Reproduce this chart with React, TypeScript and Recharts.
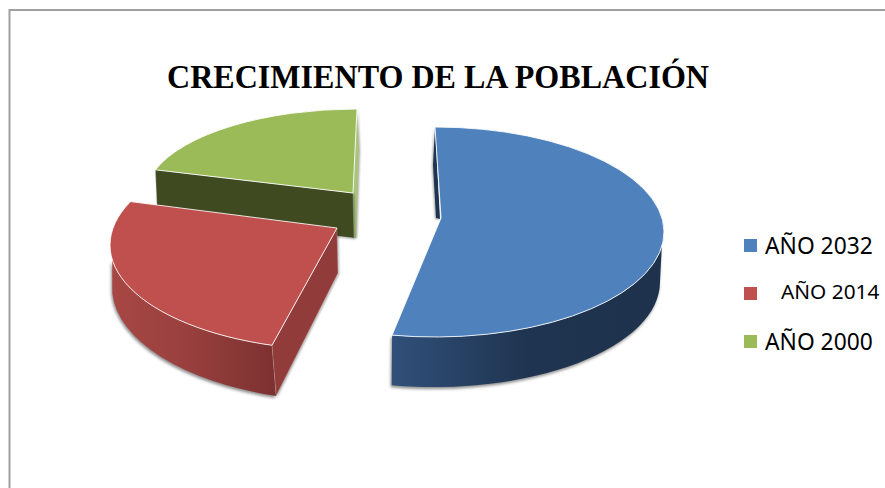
import React from "react";
import { PieChart, Pie, Legend } from "recharts";

const categories = ["AÑO 2000", "AÑO 2014", "AÑO 2032"];
const values = [20, 27, 53];
const colors = ["#9BBB59", "#C0504D", "#4F81BD"];
const chartTitle = "CRECIMIENTO DE LA POBLACIÓN";

const rows = categories.map((name, i) => ({ name, value: values[i], fill: colors[i] }));

type Geo = {
  top: { x: number; y: number; rx: number; ry: number };
  bottom: { x: number; y: number; rx: number; ry: number };
  apex: [number, number];
  rotate: number;
  depth: number;
  wallTop?: [number, number];
  wallBottom?: [number, number];
  wallStops?: [number, string][];
  cutFill?: string;
};

const geometry: Record<string, Geo> = {
  "AÑO 2000": {
    top: { x: 357, y: 197, rx: 212, ry: 88 },
    bottom: { x: 359, y: 242, rx: 212, ry: 88 },
    apex: [353, 193],
    rotate: 0,
    depth: 45,
    cutFill: "#404A21",
  },
  "AÑO 2014": {
    top: { x: 340, y: 245, rx: 230, ry: 105 },
    bottom: { x: 345, y: 287, rx: 233, ry: 114 },
    apex: [337, 228],
    rotate: -6.4,
    depth: 45,
    wallTop: [188, 252.8],
    wallBottom: [183, 252.8],
    wallStops: [[0, "#A74744"], [0.45, "#99403E"], [1, "#7B3130"]],
    cutFill: "#913C3A",
  },
  "AÑO 2032": {
    top: { x: 435, y: 232, rx: 229, ry: 105 },
    bottom: { x: 434, y: 282, rx: 226, ry: 105 },
    apex: [441, 218],
    rotate: 0,
    depth: 50,
    wallTop: [259.2, 352],
    wallBottom: [259.2, 360],
    wallStops: [[0, "#30507A"], [0.5, "#1F3450"], [1, "#1E324D"]],
  },
};

const legendStyle: Record<string, { y: number; x: number; size: number; box: number }> = {
  "AÑO 2032": { y: 231, x: 765, size: 22.8, box: 239 },
  "AÑO 2014": { y: 276, x: 781, size: 20.8, box: 287 },
  "AÑO 2000": { y: 327, x: 765, size: 22.8, box: 335 },
};

const pt = (e: Geo["top"], deg: number): [number, number] => {
  const a = (deg * Math.PI) / 180;
  return [e.x + e.rx * Math.cos(a), e.y - e.ry * Math.sin(a)];
};

const SliceShape = (props: any) => {
  const g = geometry[props.name];
  const start = props.startAngle + g.rotate;
  const end = props.endAngle + g.rotate;
  const s = pt(g.top, start);
  const t = pt(g.top, end);
  const large = end - start > 180 ? 1 : 0;
  const face = `M${g.apex[0]} ${g.apex[1]} L${s[0]} ${s[1]} A${g.top.rx} ${g.top.ry} 0 ${large} 0 ${t[0]} ${t[1]} Z`;
  const id = "wall" + props.name.replace(/\D/g, "");

  let wall: React.ReactNode = null;
  if (g.wallTop && g.wallBottom && g.wallStops) {
    const a = pt(g.top, g.wallTop[0]);
    const b = pt(g.top, g.wallTop[1]);
    const c = pt(g.bottom, g.wallBottom[1]);
    const d = pt(g.bottom, g.wallBottom[0]);
    wall = (
      <>
        <defs>
          <linearGradient id={id} x1="0" y1="0" x2="1" y2="0">
            {g.wallStops.map(([o, col]) => (
              <stop key={o} offset={o} stopColor={col} />
            ))}
          </linearGradient>
        </defs>
        <path
          d={`M${a[0]} ${a[1]} A${g.top.rx} ${g.top.ry} 0 0 0 ${b[0]} ${b[1]} L${c[0]} ${c[1]} A${g.bottom.rx} ${g.bottom.ry} 0 0 1 ${d[0]} ${d[1]} Z`}
          fill={`url(#${id})`}
          style={{ filter: "drop-shadow(-1px 2px 1.5px rgba(0,0,0,.45))" }}
        />
      </>
    );
  }

  let cut: React.ReactNode = null;
  if (g.cutFill) {
    const low = pt(g.bottom, end);
    cut = (
      <path
        d={`M${g.apex[0]} ${g.apex[1]} L${t[0]} ${t[1]} L${low[0]} ${low[1]} L${g.apex[0] + 1} ${g.apex[1] + g.depth} Z`}
        fill={g.cutFill}
        stroke="#ffffff"
        strokeOpacity={0.35}
        strokeWidth={0.6}
        style={{ filter: "drop-shadow(1px 1px 1px rgba(0,0,0,.35))" }}
      />
    );
  }

  // Thin slivers of the inner cut seen behind the top edge of the green and blue slices.
  let sliver: React.ReactNode = null;
  if (props.name === "AÑO 2000") {
    sliver = (
      <path
        d={`M${s[0]} ${s[1]} L359 150 L356 238 L352 238 L${g.apex[0]} ${g.apex[1]} Z`}
        fill="#A9C47C"
        style={{ filter: "drop-shadow(1px 0px 1px rgba(0,0,0,.35))" }}
      />
    );
  }
  if (props.name === "AÑO 2032") {
    sliver = (
      <path
        d={`M${t[0]} ${t[1]} L433 165 L436 218 L440 219 Z`}
        fill="#1F3450"
        style={{ filter: "drop-shadow(-1px 1px 1px rgba(0,0,0,.35))" }}
      />
    );
  }

  return (
    <g>
      {sliver}
      {wall}
      {cut}
      <path d={face} fill={props.fill} stroke="#ffffff" strokeOpacity={0.85} strokeWidth={1} />
    </g>
  );
};

const LegendContent = (props: any) => {
  const items = [...(props.payload || [])].reverse();
  return (
    <div style={{ position: "relative", width: 885, height: 488 }}>
      {items.map((it: any) => {
        const st = legendStyle[it.value];
        return (
          <React.Fragment key={it.value}>
            <div
              style={{
                position: "absolute",
                left: 744,
                top: st.box,
                width: 13,
                height: 13,
                background: it.color,
              }}
            />
            <div
              style={{
                position: "absolute",
                left: st.x,
                top: st.y,
                fontFamily: "'Noto Sans', sans-serif",
                fontSize: st.size,
                lineHeight: "30px",
                color: "#000",
                whiteSpace: "nowrap",
              }}
            >
              {it.value}
            </div>
          </React.Fragment>
        );
      })}
    </div>
  );
};

export default function App() {
  return (
    <div style={{ position: "absolute", left: 0, top: 0, width: 885, height: 488, background: "#fff" }}>
      <PieChart width={885} height={488} margin={{ top: 0, right: 0, bottom: 0, left: 0 }}>
        <path d="M9.5 488 V10 H885" fill="none" stroke="#A0A0A0" strokeWidth={2} />
        <text
          x={438}
          y={88}
          textAnchor="middle"
          fontFamily="'Liberation Serif', serif"
          fontWeight="bold"
          fontSize={33.5}
          textLength={542}
          lengthAdjust="spacingAndGlyphs"
          fill="#000"
        >
          {chartTitle}
        </text>
        <Pie
          data={rows}
          dataKey="value"
          nameKey="name"
          cx={400}
          cy={240}
          outerRadius={200}
          startAngle={90}
          endAngle={450}
          isAnimationActive={false}
          shape={SliceShape}
          stroke="none"
        />
        <Legend
          content={<LegendContent />}
          wrapperStyle={{ position: "absolute", left: 0, top: 0, width: 885, height: 488 }}
        />
      </PieChart>
    </div>
  );
}
